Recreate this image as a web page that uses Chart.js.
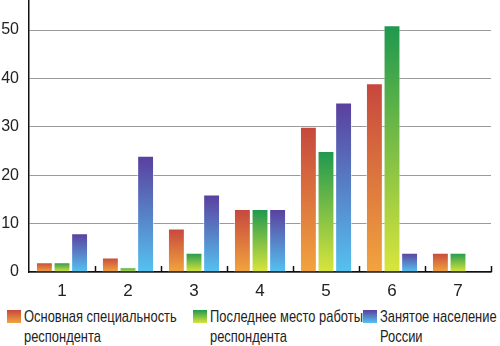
<!DOCTYPE html>
<html>
<head>
<meta charset="utf-8">
<script src="https://cdn.jsdelivr.net/npm/chart.js@4/dist/chart.umd.min.js"></script>
<style>
  html, body { margin:0; padding:0; background:#fff; }
  #wrap { position:relative; width:500px; height:346px; overflow:hidden; }
  #chart-canvas { position:absolute; left:0; top:0; }
  .lg { position:absolute; top:307px; font-family:"Liberation Sans",Arial,sans-serif;
        font-size:17px; line-height:20px; color:#222; white-space:nowrap; }
  .lg .txt { transform-origin:0 0; transform:scaleX(0.76); }
  .lg .sw { position:absolute; top:3px; width:14px; height:13px; }
</style>
</head>
<body>
<div id="wrap">
  <canvas id="chart-canvas" width="500" height="300"></canvas>
  <div id="legend"></div>
</div>
<script>
/* Data */
var CATEGORIES = ['1','2','3','4','5','6','7'];
var SPECIALTY  = [2, 3, 9, 13, 30, 39, 4];    // Основная специальность респондента
var LAST_JOB   = [2, 1, 4, 13, 25, 51, 4];    // Последнее место работы респондента
var EMPLOYED   = [8, 24, 16, 13, 35, 4, null]; // Занятое население России
var SERIES_NAMES = [
  ['Основная специальность', 'респондента'],
  ['Последнее место работы', 'респондента'],
  ['Занятое население', 'России']
];
var Y_TICKS = [0, 10, 20, 30, 40, 50];

var FONT = '"Liberation Sans",Arial,sans-serif';
var PALETTE = [
  {top:'#c6473d', bottom:'#f2a43f'},
  {top:'#1e984f', bottom:'#dae53c'},
  {top:'#5a3f9e', bottom:'#55c2f0'}
];
var LEGEND_X = [24, 210, 380];   // where each legend text starts

// per-bar vertical gradient, dark at top fading to light at the base
function barGradient(p){
  return function(c){
    var chart = c.chart;
    if(!chart.chartArea || c.type !== 'data' || c.raw == null) return p.top;
    var y = chart.scales.y;
    var yt = y.getPixelForValue(c.raw), yb = y.getPixelForValue(0);
    if(yb - yt < 1) return p.top;
    var g = chart.ctx.createLinearGradient(0, yt, 0, yb);
    g.addColorStop(0, p.top);
    g.addColorStop(1, p.bottom);
    return g;
  };
}

// short upward tick marks on the x axis between categories
var innerTicks = {
  id:'innerTicks',
  afterDatasetsDraw: function(chart){
    var x = chart.scales.x, ctx = chart.ctx, base = chart.chartArea.bottom;
    ctx.save();
    ctx.strokeStyle = '#111';
    ctx.lineWidth = 1.5;
    ctx.beginPath();
    for(var i=0;i<CATEGORIES.length;i++){
      var px = Math.round(x.getPixelForValue(i + 0.5)) + 0.5;
      ctx.moveTo(px, base);
      ctx.lineTo(px, base - 6);
    }
    ctx.stroke();
    ctx.restore();
  }
};

var seriesData = [SPECIALTY, LAST_JOB, EMPLOYED];
var datasets = seriesData.map(function(d, i){
  return {
    label: SERIES_NAMES[i].join(' '),
    data: d,
    backgroundColor: barGradient(PALETTE[i]),
    borderColor: 'rgba(255,255,255,0.55)',
    borderWidth: 1,
    categoryPercentage: 0.8,
    barPercentage: 0.96
  };
});

new Chart(document.getElementById('chart-canvas'), {
  type:'bar',
  data:{ labels: CATEGORIES, datasets: datasets },
  plugins:[innerTicks],
  options:{
    responsive:false,
    animation:false,
    layout:{ padding:{ top:0, right:9, left:0, bottom:0 } },
    plugins:{ legend:{ display:false }, tooltip:{ enabled:false } },
    scales:{
      x:{
        offset:true,
        grid:{ display:false, drawTicks:false },
        border:{ display:true, color:'#111', width:1.5 },
        ticks:{ padding:9, color:'#222', font:{ family:FONT, size:17 } },
        afterFit:function(s){ s.height = 28; s.paddingLeft = 0; s.paddingRight = 0; }
      },
      y:{
        min:0,
        max:56.2,
        ticks:{ stepSize:10, padding:10, color:'#222', font:{ family:FONT, size:16 } },
        afterBuildTicks:function(s){
          s.ticks = Y_TICKS.map(function(v){ return {value:v}; });
        },
        grid:{ color:'#9a9a9a', lineWidth:1, drawTicks:false },
        border:{ display:true, color:'#111', width:1.5 },
        // chart area runs right up to the top edge, no label padding
        afterFit:function(s){ s.width = 29; s.paddingTop = 0; s.paddingBottom = 0; }
      }
    }
  }
});

// HTML legend with gradient swatches and two-line labels
var legendEl = document.getElementById('legend');
SERIES_NAMES.forEach(function(lines, i){
  var item = document.createElement('div');
  item.className = 'lg';
  item.style.left = LEGEND_X[i] + 'px';
  var sw = document.createElement('span');
  sw.className = 'sw';
  sw.style.left = '-17px';
  sw.style.background = 'linear-gradient(' + PALETTE[i].top + ',' + PALETTE[i].bottom + ')';
  item.appendChild(sw);
  var txt = document.createElement('div');
  txt.className = 'txt';
  lines.forEach(function(t){
    var ln = document.createElement('div');
    ln.textContent = t;
    txt.appendChild(ln);
  });
  item.appendChild(txt);
  legendEl.appendChild(item);
});
</script>
</body>
</html>
